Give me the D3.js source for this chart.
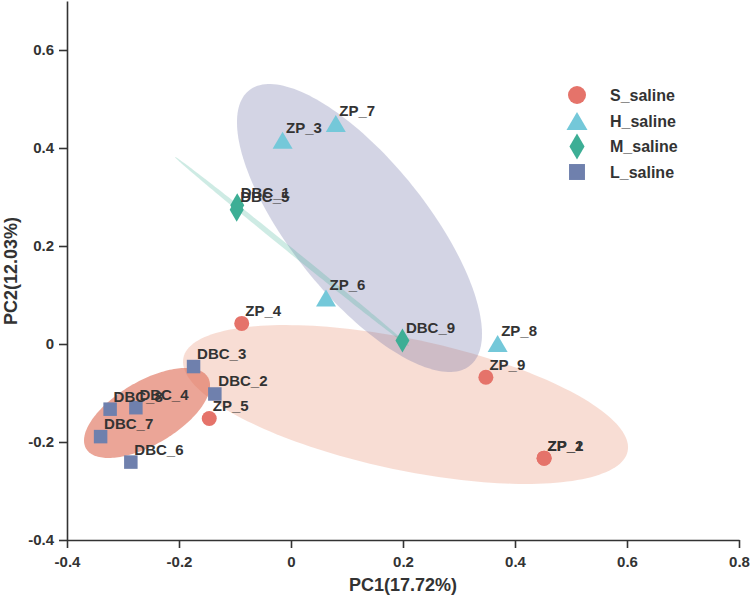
<!DOCTYPE html>
<html>
<head>
<meta charset="utf-8">
<script src="https://cdn.jsdelivr.net/npm/d3@7"></script>
<style>
  html, body { margin: 0; padding: 0; background: #ffffff; }
  svg { display: block; }
  text { font-family: "Liberation Sans", Arial, Helvetica, sans-serif; font-weight: bold; fill: #333333; }
</style>
</head>
<body>
<svg id="chart" width="750" height="598"></svg>
<script>
// ---------------- data ----------------
const groups = ["S_saline", "H_saline", "M_saline", "L_saline"];

const sLabels = ["ZP_1", "ZP_2", "ZP_4", "ZP_5", "ZP_9"];
const sPC1 = [0.452, 0.452, -0.088, -0.146, 0.348];
const sPC2 = [-0.233, -0.233, 0.042, -0.152, -0.068];

const hLabels = ["ZP_3", "ZP_7", "ZP_6", "ZP_8"];
const hPC1 = [-0.015, 0.080, 0.0625, 0.369];
const hPC2 = [0.416, 0.450, 0.094, 0.001];

const mLabels = ["DBC_1", "DBC_5", "DBC_9"];
const mPC1 = [-0.096, -0.097, 0.199];
const mPC2 = [0.283, 0.274, 0.007];

const lLabels = ["DBC_2", "DBC_3", "DBC_4", "DBC_6", "DBC_7", "DBC_8"];
const lPC1 = [-0.136, -0.174, -0.277, -0.286, -0.340, -0.323];
const lPC2 = [-0.102, -0.046, -0.130, -0.241, -0.189, -0.133];

// ellipses (centre + semi-axis vectors, in PC units)
const ellipseNames = ["wide", "upper", "band", "core"];
const ellipseCX = [0.2045, 0.1223, 0.0018, -0.2571];
const ellipseCY = [-0.1235, 0.2367, 0.1888, -0.1408];
const ellipseMajor = [[0.3966, -0.0955], [0.1973, -0.2808], [0.2089, -0.1929], [0.1088, 0.0728]];
const ellipseMinor = [[-0.0241, -0.131], [-0.0945, -0.0865], [-0.0030, -0.0044], [0.0287, -0.056]];

const xTicks = [-0.4, -0.2, 0, 0.2, 0.4, 0.6, 0.8];
const xTickLabels = ["-0.4", "-0.2", "0", "0.2", "0.4", "0.6", "0.8"];
const yTicks = [-0.4, -0.2, 0, 0.2, 0.4, 0.6];
const yTickLabels = ["-0.4", "-0.2", "0", "0.2", "0.4", "0.6"];

const xTitle = "PC1(17.72%)";
const yTitle = "PC2(12.03%)";

// ---------------- drawing ----------------
const svg = d3.select("#chart");
const x = d3.scaleLinear().domain([-0.4, 0.8]).range([67, 739]);
const y = d3.scaleLinear().domain([-0.4, 0.7]).range([540, 1]);

const color = { S_saline: "#E5736A", H_saline: "#74C8D9", M_saline: "#3DAE95", L_saline: "#6F80AD" };
const ellipseStyle = {
  wide:  { fill: "#E47654", op: 0.25 },
  core:  { fill: "#DF6E57", op: 0.62 },
  upper: { fill: "#6C70A5", op: 0.30 },
  band:  { fill: "#3DAE95", op: 0.25 }
};

// ellipses
const drawOrder = ["wide", "core", "upper", "band"];
const line = d3.line().curve(d3.curveLinearClosed);
drawOrder.forEach(name => {
  const i = ellipseNames.indexOf(name);
  const pts = d3.range(0, 360, 2).map(deg => {
    const t = deg * Math.PI / 180;
    const px = ellipseCX[i] + ellipseMajor[i][0] * Math.cos(t) + ellipseMinor[i][0] * Math.sin(t);
    const py = ellipseCY[i] + ellipseMajor[i][1] * Math.cos(t) + ellipseMinor[i][1] * Math.sin(t);
    return [x(px), y(py)];
  });
  svg.append("path")
    .attr("d", line(pts))
    .attr("fill", ellipseStyle[name].fill)
    .attr("fill-opacity", ellipseStyle[name].op)
    .attr("stroke", "none");
});

// axes
const xAxis = d3.axisBottom(x).tickValues(xTicks).tickSize(8).tickSizeOuter(0).tickPadding(5)
  .tickFormat((d, i) => xTickLabels[i]);
const yAxis = d3.axisLeft(y).tickValues(yTicks).tickSize(8).tickSizeOuter(0).tickPadding(5)
  .tickFormat((d, i) => yTickLabels[i]);

const gx = svg.append("g").attr("transform", `translate(0,${y(-0.4)})`).call(xAxis);
const gy = svg.append("g").attr("transform", `translate(${x(-0.4)},0)`).call(yAxis);
[gx, gy].forEach(g => {
  g.select(".domain").attr("stroke", "#333").attr("stroke-width", 1.6);
  g.selectAll(".tick line").attr("stroke", "#333").attr("stroke-width", 1.6);
  g.selectAll(".tick text").attr("fill", "#333").style("font-size", "15px")
    .style("font-family", "'Liberation Sans', Arial, sans-serif").style("font-weight", "bold");
});
gx.selectAll(".tick text").attr("dy", "0.95em");

svg.append("text").attr("x", 403).attr("y", 591).attr("text-anchor", "middle")
  .style("font-size", "18px").text(xTitle);
svg.append("text").attr("transform", "translate(17,271) rotate(-90)").attr("text-anchor", "middle")
  .style("font-size", "18px").text(yTitle);

// marker shapes
function marker(g, group, cx, cy, s) {
  const c = color[group];
  if (group === "S_saline") {
    g.append("circle").attr("cx", cx).attr("cy", cy).attr("r", 7.5 * s).attr("fill", c);
  } else if (group === "H_saline") {
    const w = 20 * s, h = 17 * s;
    g.append("path").attr("d", `M${cx},${cy - h / 2}L${cx + w / 2},${cy + h / 2}L${cx - w / 2},${cy + h / 2}Z`).attr("fill", c);
  } else if (group === "M_saline") {
    const w = 14 * s, h = 24 * s;
    g.append("path").attr("d", `M${cx},${cy - h / 2}L${cx + w / 2},${cy}L${cx},${cy + h / 2}L${cx - w / 2},${cy}Z`).attr("fill", c);
  } else {
    const w = 13.5 * s;
    g.append("rect").attr("x", cx - w / 2).attr("y", cy - w / 2).attr("width", w).attr("height", w).attr("fill", c);
  }
}

const series = [
  { g: "S_saline", labels: sLabels, xs: sPC1, ys: sPC2 },
  { g: "H_saline", labels: hLabels, xs: hPC1, ys: hPC2 },
  { g: "M_saline", labels: mLabels, xs: mPC1, ys: mPC2 },
  { g: "L_saline", labels: lLabels, xs: lPC1, ys: lPC2 }
];

const gp = svg.append("g");
series.forEach(sr => {
  sr.xs.forEach((v, i) => marker(gp, sr.g, x(v), y(sr.ys[i]), 1));
});
const gl = svg.append("g");
series.forEach(sr => {
  sr.xs.forEach((v, i) => {
    gl.append("text").attr("x", x(v) + 3.5).attr("y", y(sr.ys[i]) - 7.5)
      .style("font-size", "15px").text(sr.labels[i]);
  });
});

// legend
const legY = [95, 121, 146.5, 172];
const legScale = [1.2, 1.05, 1.08, 1.18];
groups.forEach((grp, i) => {
  marker(svg, grp, 577, legY[i], legScale[i]);
  svg.append("text").attr("x", 610).attr("y", legY[i] + 5.8).style("font-size", "16px").text(grp);
});
</script>
</body>
</html>
